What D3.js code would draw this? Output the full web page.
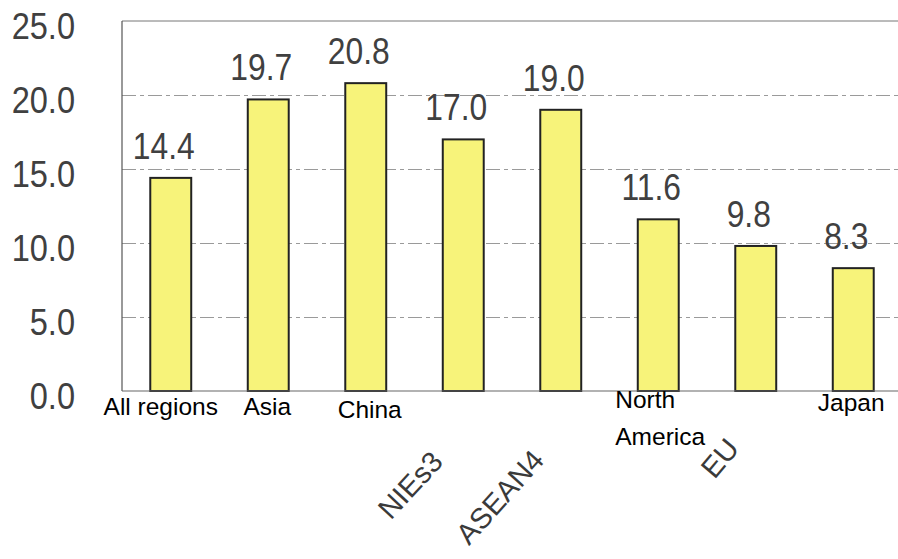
<!DOCTYPE html>
<html><head><meta charset="utf-8">
<script src="https://cdn.jsdelivr.net/npm/d3@7"></script>
<style>body{margin:0;background:#fff}svg{display:block}</style>
</head><body>
<svg id="c" width="898" height="559"></svg>
<script>
const categories = ["All regions","Asia","China","NIEs3","ASEAN4","North America","EU","Japan"];
const values = [14.4,19.7,20.8,17.0,19.0,11.6,9.8,8.3];
const yTicks = [0,5,10,15,20,25];

// label layout (presentation only)
const labelLayout = [
  {dx:-10, y:415, rot:0, anchor:"middle", lines:["All regions"]},
  {dx:-1, y:415, rot:0, anchor:"middle", lines:["Asia"]},
  {dx:4, y:418, rot:0, anchor:"middle", lines:["China"]},
  {dx:-53, y:485, rot:-47, anchor:"middle", lines:["NIEs3"], gray:true},
  {dx:-61, y:497, rot:-48, anchor:"middle", lines:["ASEAN4"], gray:true},
  {dx:-43, y:408, rot:0, anchor:"start", lines:["North","America"]},
  {dx:-36, y:458, rot:-50, anchor:"middle", lines:["EU"], gray:true},
  {dx:-2, y:411, rot:0, anchor:"middle", lines:["Japan"]}
];

const svg = d3.select("#c");
const L=122, R=902, T=21, B=391;
const x = d3.scaleBand().domain(categories).range([L,R]).paddingInner(0.58).paddingOuter(0.29);
const y = d3.scaleLinear().domain([0,25]).range([B,T]);

// grid
svg.append("g").attr("transform",`translate(${L},0)`)
  .call(d3.axisLeft(y).tickValues(yTicks.filter(t=>t>0 && t<25)).tickSize(-(898-L)).tickFormat(""))
  .call(g=>g.select(".domain").remove())
  .call(g=>g.selectAll("line").attr("stroke","#9a9a9a").attr("stroke-width",1).attr("stroke-dasharray","14,4,4,4"));

// frame
svg.append("line").attr("x1",L).attr("x2",898).attr("y1",T).attr("y2",T).attr("stroke","#777").attr("stroke-width",1);
svg.append("line").attr("x1",L).attr("x2",L).attr("y1",T).attr("y2",B).attr("stroke","#555").attr("stroke-width",1.2);

// y axis labels
svg.append("g").attr("transform",`translate(75,0)`)
  .call(d3.axisLeft(y).tickValues(yTicks).tickSize(0).tickPadding(0).tickFormat(d3.format(".1f")))
  .call(g=>g.select(".domain").remove())
  .call(g=>g.selectAll("text")
     .attr("x",0).attr("dy",null).attr("y",null)
     .attr("font-family","Liberation Sans, Arial, sans-serif").attr("font-size",37).attr("fill","#404040")
     .attr("text-anchor","end")
     .attr("transform",d=>`translate(0,${17})scale(0.88,1)`));

// bars
svg.append("g").selectAll("rect").data(values).join("rect")
  .attr("x",(d,i)=>x(categories[i])).attr("width",x.bandwidth())
  .attr("y",d=>y(d)).attr("height",d=>B-y(d))
  .attr("fill","#f7f37a").attr("stroke","#222").attr("stroke-width",2);

// bottom axis line
svg.append("line").attr("x1",L).attr("x2",898).attr("y1",B).attr("y2",B).attr("stroke","#666").attr("stroke-width",1.2);

// value labels
svg.append("g").selectAll("text").data(values).join("text")
  .attr("transform",(d,i)=>`translate(${x(categories[i])+x.bandwidth()/2-7},${y(d)-19})scale(0.86,1)`)
  .attr("text-anchor","middle")
  .attr("font-family","Liberation Sans, Arial, sans-serif").attr("font-size",37).attr("fill","#404040")
  .text(d=>d3.format(".1f")(d));

// category labels
const cg = svg.append("g");
categories.forEach((c,i)=>{
  const lay = labelLayout[i];
  const cx = x(c)+x.bandwidth()/2+lay.dx;
  const t = cg.append("text")
    .attr("font-family","Liberation Sans, Arial, sans-serif")
    .attr("text-anchor",lay.anchor);
  if(lay.rot){
    t.attr("transform",`translate(${cx},${lay.y})rotate(${lay.rot})`)
     .attr("dy","0.35em").attr("font-size",29).attr("fill","#3a3a3a").text(lay.lines[0]);
  } else {
    t.attr("font-size",24.5).attr("fill","#000");
    lay.lines.forEach((ln,k)=>{
      t.append("tspan").attr("x",cx).attr("y",lay.y+k*37).text(ln);
    });
  }
});
</script>
</body></html>
